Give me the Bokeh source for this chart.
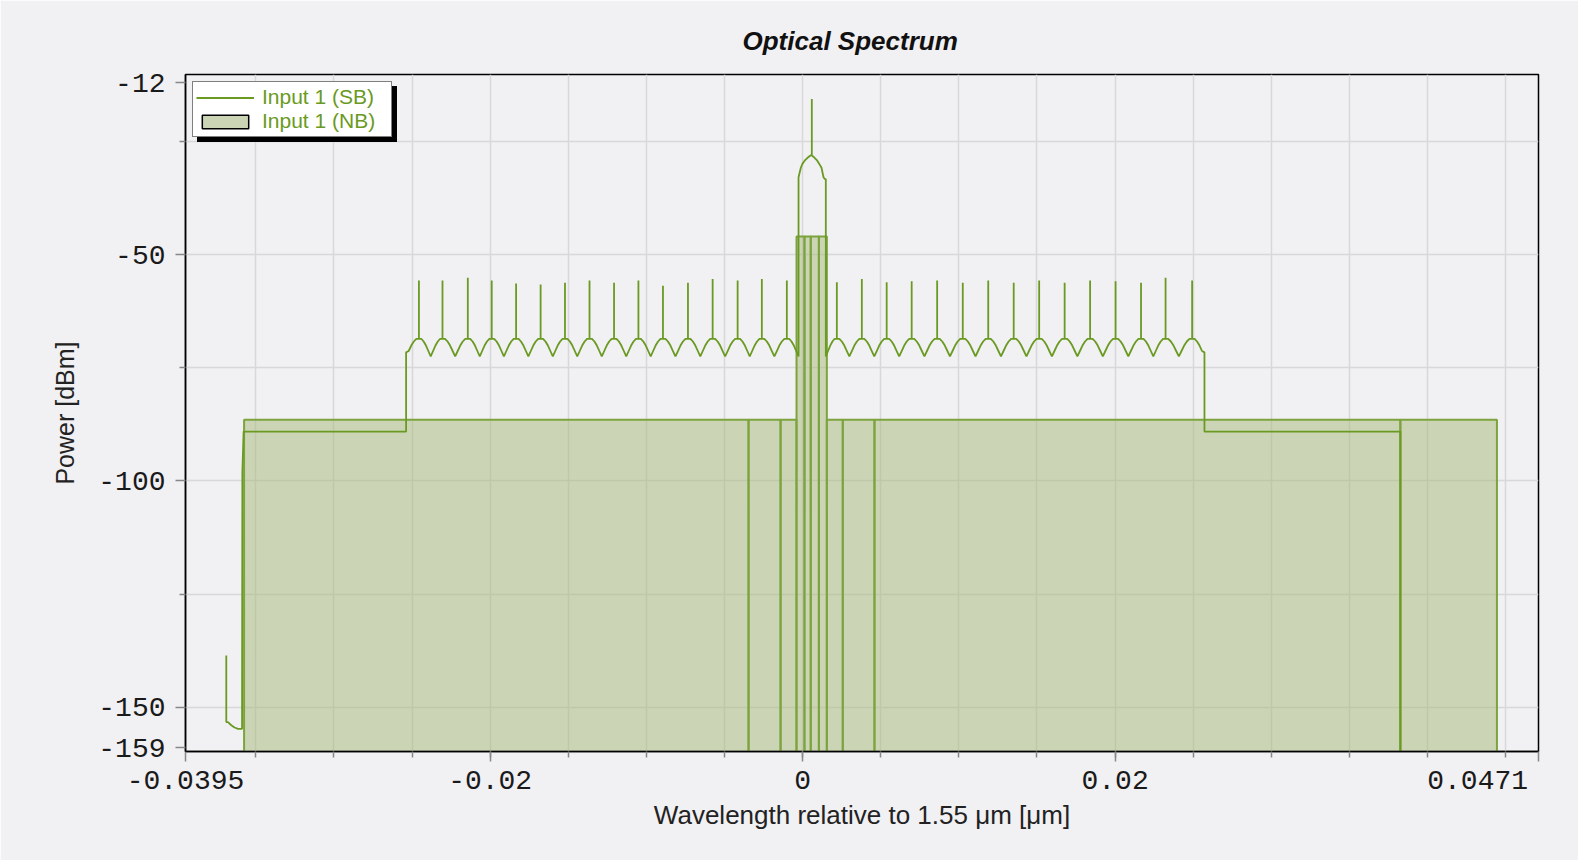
from bokeh.plotting import figure
from bokeh.models import (Range1d, FixedTicker, CustomJSTickFormatter, Legend,
                          LegendItem, ColumnDataSource)
from bokeh.embed import file_html
from bokeh.resources import INLINE

# ---------------------------------------------------------------- data
# Wavelength offsets (um, relative to 1.55 um) of the comb tones
tone_wl = [-0.02456, -0.02305, -0.02143, -0.01990, -0.01834, -0.01677, -0.01521,
           -0.01364, -0.01207, -0.01051, -0.00894, -0.00734, -0.00576, -0.00416,
           -0.00261, -0.00101,
           0.00219, 0.00379, 0.00538, 0.00698, 0.00861, 0.01025, 0.01188, 0.01351,
           0.01514, 0.01677, 0.01840, 0.02003, 0.02166, 0.02323, 0.02493]
# Peak power of each comb tone (dBm)
tone_peak_dbm = [-55.7, -55.7, -55.1, -55.7, -56.4, -56.6, -56.2, -55.7, -56.2, -55.7,
                 -56.9, -56.2, -55.4, -55.7, -55.4, -55.7,
                 -56.1, -55.4, -56.1, -55.9, -55.7, -56.2, -55.7, -56.2, -55.7,
                 -56.2, -55.7, -55.9, -56.2, -55.1, -55.7]
# Top level of the modulation lobes and their shape around each tone
lobe_top_dbm = -68.6
lobe_frac = [-1.0, -0.8, -0.6, -0.4, -0.2, 0.2, 0.4, 0.6, 0.8, 1.0]
lobe_rel_db = [-3.9, -2.7, -1.5, -0.6, 0.0, 0.0, -0.6, -1.5, -2.7, -3.9]

# Edges of the modulated band and the noise floor outside it
band_edge_wl = [-0.02538, 0.02572]
band_edge_dbm = -71.6
floor_dbm = -89.1
floor_end_wl = 0.03826

# Central carrier envelope
carrier_wl = [-0.000262, -0.000115, -0.000006, 0.000141, 0.000313, 0.000460,
              0.000588, 0.000588, 0.000588, 0.000735, 0.000908, 0.001055,
              0.001209, 0.001337, 0.001420, 0.001484]
carrier_dbm = [-32.9, -30.8, -29.9, -29.2, -28.6, -28.2,
               -27.9, -15.6, -28.1, -28.5, -29.1, -29.9,
               -30.8, -32.9, -33.3, -33.3]

# Start of the trace at the short-wavelength end
tail_wl = [-0.03689, -0.03689, -0.03678, -0.03657, -0.03636, -0.03614, -0.03588,
           -0.03586, -0.03578]
tail_dbm = [-138.6, -153.3, -153.3, -154.0, -154.5, -154.8, -154.8,
            -98.1, -89.1]

# Narrowband bins: edges (um) and power (dBm)
nb_edges_wl = [-0.03575, -0.00346, -0.00141, -0.00039, 0.00012, 0.00052, 0.00104,
               0.00155, 0.00257, 0.00460, 0.03826, 0.04444]
nb_dbm = [-86.5, -86.5, -86.5, -46.0, -46.0, -46.0, -46.0, -86.5, -86.5, -86.5, -86.5]
below_axis_dbm = -200.0

x_ticks = [-0.0395, -0.02, 0, 0.02, 0.0471]
x_minor = [-0.035, -0.03, -0.025, -0.02, -0.015, -0.01, -0.005, 0, 0.005, 0.01,
           0.015, 0.02, 0.025, 0.03, 0.035, 0.04, 0.045]
y_ticks = [-159, -150, -100, -50, -12]
y_minor = [-125, -75, -25]
y_grid = [-150, -125, -100, -75, -50, -25]

# ---------------------------------------------------------------- styles
BG = "#F1F0F3"
GREEN = "#6A9A22"
NB_LINE = "#7CA33C"
NB_FILL = "#A5BA79"
LEGEND_FILL = "#CBD5B5"
GRID = "#D8D8DA"

# ---------------------------------------------------------------- trace
def lobe_group(tones, peaks, lo, hi, open_left, open_right):
    """Polyline of consecutive modulation lobes with a spike on each tone."""
    px, py = [], []
    n = len(tones)
    for i, (t, pk) in enumerate(zip(tones, peaks)):
        left = lo if i == 0 else 0.5 * (tones[i - 1] + t)
        right = hi if i == n - 1 else 0.5 * (t + tones[i + 1])
        for f, r in zip(lobe_frac, lobe_rel_db):
            if f == -1.0 and i == 0 and open_left:
                continue
            if f == 1.0 and i == n - 1 and open_right:
                continue
            px.append(t + f * (t - left) if f < 0 else t + f * (right - t))
            py.append(lobe_top_dbm + r)
            if f == -0.2:
                px += [t, t, t]
                py += [lobe_top_dbm, pk, lobe_top_dbm]
    return px, py


left_idx = [i for i, t in enumerate(tone_wl) if t < carrier_wl[0]]
right_idx = [i for i, t in enumerate(tone_wl) if t > carrier_wl[-1]]

sb_x = list(tail_wl)
sb_y = list(tail_dbm)
sb_x += [band_edge_wl[0], band_edge_wl[0]]
sb_y += [floor_dbm, band_edge_dbm]
gx, gy = lobe_group([tone_wl[i] for i in left_idx], [tone_peak_dbm[i] for i in left_idx],
                    band_edge_wl[0], carrier_wl[0], True, False)
sb_x += gx
sb_y += gy
sb_x += carrier_wl
sb_y += carrier_dbm
gx, gy = lobe_group([tone_wl[i] for i in right_idx], [tone_peak_dbm[i] for i in right_idx],
                    carrier_wl[-1], band_edge_wl[1], False, True)
sb_x += gx
sb_y += gy
sb_x += [band_edge_wl[1], band_edge_wl[1], floor_end_wl, floor_end_wl]
sb_y += [band_edge_dbm, floor_dbm, floor_dbm, below_axis_dbm]

# ---------------------------------------------------------------- figure
p = figure(width=1578, height=860, output_backend="svg", toolbar_location=None,
           x_range=Range1d(-0.0395, 0.0471), y_range=Range1d(-159.8, -10.2),
           min_border_left=185, min_border_right=40, min_border_top=74,
           min_border_bottom=109, background_fill_color=BG, border_fill_color=BG,
           title="Optical Spectrum")

p.title.align = "left"
p.title.offset = 557
p.title.text_font = "Liberation Sans"
p.title.text_font_size = "26px"
p.title.text_font_style = "bold italic"
p.title.text_color = "#111111"
p.title.standoff = 37

p.outline_line_color = "black"
p.outline_line_width = 1.5

p.xgrid.ticker = FixedTicker(ticks=x_minor)
p.ygrid.ticker = FixedTicker(ticks=y_grid)
for g in (p.xgrid, p.ygrid):
    g.grid_line_color = GRID
    g.grid_line_width = 1.5

# the last wavelength label is set flush with the right end of the axis
fmt_x = CustomJSTickFormatter(
    code="return index == ticks.length - 1 ? String(tick) + '\\u00a0'.repeat(3) : String(tick);")
fmt_y = CustomJSTickFormatter(code="return String(tick);")
p.xaxis.ticker = FixedTicker(ticks=x_ticks, minor_ticks=x_minor)
p.yaxis.ticker = FixedTicker(ticks=y_ticks, minor_ticks=y_minor)
p.xaxis.formatter = fmt_x
p.yaxis.formatter = fmt_y
for ax in (p.xaxis, p.yaxis):
    ax.axis_line_color = "black"
    ax.axis_line_width = 1.5
    ax.major_tick_line_color = "#888888"
    ax.minor_tick_line_color = "#888888"
    ax.major_tick_line_width = 1.5
    ax.minor_tick_line_width = 1.5
    ax.major_tick_in = 0
    ax.minor_tick_in = 0
    ax.major_tick_out = 10
    ax.minor_tick_out = 6
    ax.major_label_text_font = "Liberation Mono"
    ax.major_label_text_font_size = "28px"
    ax.major_label_text_color = "#1a1a1a"
    ax.axis_label_text_font = "Liberation Sans"
    ax.axis_label_text_font_size = "25px"
    ax.axis_label_text_font_style = "normal"
    ax.axis_label_text_color = "#222222"

p.xaxis.axis_label = "Wavelength relative to 1.55 μm [μm]"
p.xaxis.axis_label_text_font_size = "26px"
p.yaxis.axis_label = "Power [dBm]"
p.xaxis.major_label_standoff = 4
p.yaxis.major_label_standoff = 10
p.xaxis.axis_label_standoff = 0
p.yaxis.axis_label_standoff = 16

# narrowband bins
nb_src = ColumnDataSource(dict(left=nb_edges_wl[:-1], right=nb_edges_wl[1:], top=nb_dbm,
                               bottom=[below_axis_dbm] * len(nb_dbm)))
p.quad(left="left", right="right", top="top", bottom="bottom", source=nb_src,
       fill_color=NB_FILL, fill_alpha=0.5, line_color=NB_LINE, line_width=2)

# swept-band trace
sb = p.line(sb_x, sb_y, line_color=GREEN, line_width=1.8)

# hidden copy of the first narrowband bin, styled for the legend swatch
nb_key = p.quad(left=[nb_edges_wl[0]], right=[nb_edges_wl[1]], top=[nb_dbm[0]],
                bottom=[below_axis_dbm], fill_color=LEGEND_FILL, line_color="black",
                line_width=1.5, visible=False)


def make_legend(margin, bg, text_color, text_size, text_alpha):
    return Legend(
        items=[LegendItem(label="Input 1 (SB)", renderers=[sb]),
               LegendItem(label="Input 1 (NB)", renderers=[nb_key])],
        location="top_left", margin=margin, padding=3, spacing=0,
        glyph_width=58, glyph_height=17, label_standoff=8,
        label_height=24, label_width=126,
        label_text_font="Liberation Sans", label_text_font_size=text_size,
        label_text_color=text_color, label_text_alpha=text_alpha,
        border_line_color="black", border_line_width=1.5,
        background_fill_color=bg, background_fill_alpha=1.0)


# drop shadow behind the legend box, then the legend itself
p.add_layout(make_legend(12, "black", "black", "1px", 0.0), "center")
p.add_layout(make_legend(7, "white", GREEN, "21px", 1.0), "center")

open("out.html", "w").write(file_html(p, INLINE))
